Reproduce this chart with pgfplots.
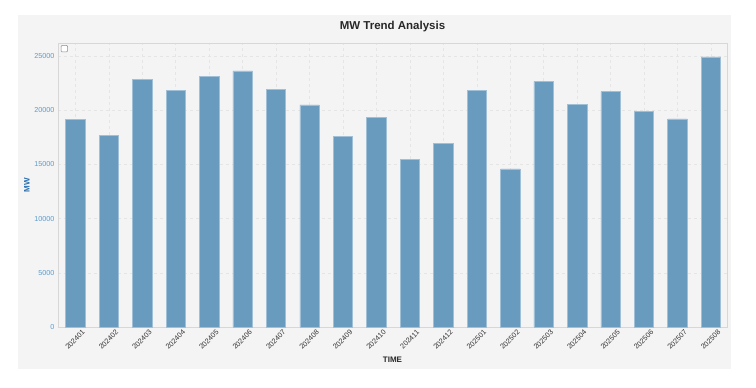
\documentclass[border=0pt]{standalone}
\usepackage{pgfplots}
\pgfplotsset{compat=1.18}
\usepackage{fontspec}
\setmainfont{Liberation Sans}
\definecolor{panel}{RGB}{244,244,244}
\definecolor{barfill}{RGB}{104,155,190}
\definecolor{baredge}{RGB}{160,192,215}
\definecolor{ticklab}{RGB}{90,155,205}
\definecolor{ylab}{RGB}{40,110,175}
\definecolor{frame}{RGB}{215,215,215}
\definecolor{titlec}{RGB}{40,40,40}
\pgfplotstableread{
x val
0 19180
1 17640
2 22820
3 21860
4 23130
5 23620
6 21930
7 20480
8 17550
9 19320
10 15450
11 16950
12 21840
13 14580
14 22670
15 20550
16 21720
17 19900
18 19200
19 24920
}\mwdata
\begin{document}
\begin{tikzpicture}[x=1pt,y=1pt]
\fill[white] (0,0) rectangle (756,388);
\fill[panel] (18,19) rectangle (731,373);
\begin{axis}[
  at={(58pt,61pt)}, anchor=south west,
  scale only axis, width=669pt, height=284pt,
  xmin=-0.52, xmax=19.48, ymin=0, ymax=26200,
  axis background/.style={fill=panel},
  axis line style={frame, line width=0.8pt},
  ybar, bar width=0.58,
  xtick=data,
  xticklabels={202401,202402,202403,202404,202405,202406,202407,202408,202409,202410,202411,202412,202501,202502,202503,202504,202505,202506,202507,202508},
  xticklabel style={rotate=45, anchor=north east, font=\fontsize{7.2}{8}\selectfont, text=black!80, inner sep=1pt, xshift=7pt, yshift=-2pt},
  ytick={0,5000,10000,15000,20000,25000},
  yticklabel style={font=\fontsize{7.2}{8}\selectfont, text=ticklab},
  /pgf/number format/assume math mode=true,
  scaled y ticks=false,
  yticklabel={\pgfmathprintnumber[fixed,1000 sep={}]{\tick}},
  tick style={draw=none},
  grid=major,
  major grid style={dashed, black!10, line width=0.5pt},
  xlabel={\textbf{TIME}}, xlabel style={font=\fontsize{8}{9}\selectfont, text=titlec, yshift=-2pt},
  ylabel={\textbf{MW}}, ylabel style={font=\fontsize{8}{9}\selectfont, text=ylab, yshift=-2pt},
  title={\textbf{MW Trend Analysis}}, title style={font=\fontsize{11.5}{12}\selectfont, text=titlec, yshift=2pt},
  clip=false,
]
\addplot[fill=barfill, draw=baredge, line width=0.6pt] table[x=x,y=val] {\mwdata};
\node[draw=black!45, fill=white, rounded corners=1pt, minimum size=6.5pt, inner sep=0pt, line width=0.5pt] at (rel axis cs:0.0095,0.98) {};
\end{axis}
\end{tikzpicture}
\end{document}
